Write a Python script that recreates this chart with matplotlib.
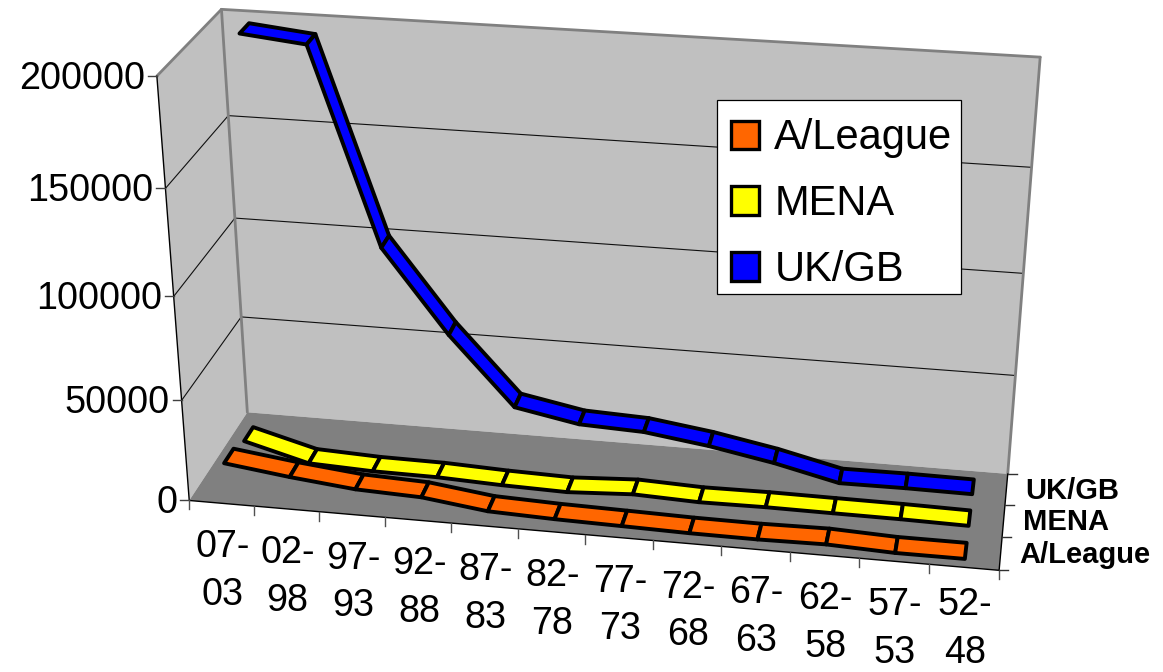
import numpy as np
import matplotlib
matplotlib.use("Agg")
import matplotlib.pyplot as plt
from matplotlib.patches import Patch, Rectangle

plt.rcParams['font.family'] = ['Liberation Sans', 'DejaVu Sans']

# chart data
periods = ["07-\n03", "02-\n98", "97-\n93", "92-\n88", "87-\n83", "82-\n78",
           "77-\n73", "72-\n68", "67-\n63", "62-\n58", "57-\n53", "52-\n48"]
series_names = ["A/League", "MENA", "UK/GB"]
a_league = [16500, 12300, 8900, 7700, 3500, 2400, 1800, 1150, 950, 1400, 100, 100]
mena = [12500, 3800, 2450, 2150, 850, 100, 1800, 600, 900, 700, 550, 100]
uk_gb = [197200, 194000, 100300, 59600, 25600, 19500, 18200, 13700, 7700, 150, 350, 100]
value_ticks = [0, 50000, 100000, 150000, 200000]
colors = ["#FF6600", "#FFFF00", "#0000FF"]

n_cat = len(periods)
n_ser = len(series_names)
v_top = value_ticks[-1]
v_unit = value_ticks[1]

# where the box of the 3D chart sits on the page: (category, series, value) -> pixel
calib_world = [(0, 0, 0), (12, 0, 0), (0, 3, 0), (12, 3, 0), (0, 3, 200000), (12, 3, 200000), (0, 0, 200000),
               (0, 3, 150000), (0, 3, 100000), (0, 3, 50000), (12, 3, 150000), (12, 3, 100000),
               (0, 0, 150000), (0, 0, 100000), (0, 0, 50000)]
calib_pix = [(189, 502), (999, 570), (248, 412), (1008, 474), (221, 9), (1041, 57), (157, 76),
             (227, 117), (235, 218), (242, 316), (1031, 167), (1023, 274),
             (167, 189), (174, 295), (180, 400)]


def fit_camera():
    rows, rhs = [], []
    for (x, y, z), (u, v) in zip(calib_world, calib_pix):
        z = z / v_unit
        rows.append([x, y, z, 1, 0, 0, 0, 0, -u * x, -u * y, -u * z])
        rhs.append(u)
        rows.append([0, 0, 0, 0, x, y, z, 1, -v * x, -v * y, -v * z])
        rhs.append(v)
    p = np.linalg.lstsq(np.array(rows, float), np.array(rhs, float), rcond=None)[0]
    return np.append(p, 1).reshape(3, 4)


camera = fit_camera()


def project(cat, ser, val):
    h = camera @ np.array([cat, ser, val / v_unit, 1.0])
    return h[0] / h[2], h[1] / h[2]


def line3d(ax, a, b, **kw):
    pa, pb = project(*a), project(*b)
    ax.plot([pa[0], pb[0]], [pa[1], pb[1]], solid_capstyle='round', **kw)


fig = plt.figure(figsize=(11.63, 6.72), dpi=100)
ax = fig.add_axes([0, 0, 1, 1])
ax.set_xlim(0, 1163)
ax.set_ylim(672, 0)
ax.axis('off')

# walls and floor
wall = "#C0C0C0"
floor = "#808080"
edge = "#808080"
back = [project(0, n_ser, 0), project(n_cat, n_ser, 0), project(n_cat, n_ser, v_top), project(0, n_ser, v_top)]
left = [project(0, 0, 0), project(0, n_ser, 0), project(0, n_ser, v_top), project(0, 0, v_top)]
ground = [project(0, 0, 0), project(n_cat, 0, 0), project(n_cat, n_ser, 0), project(0, n_ser, 0)]
ax.fill(*zip(*back), color=wall, lw=0, zorder=1)
ax.fill(*zip(*left), color=wall, lw=0, zorder=1)
ax.fill(*zip(*ground), color=floor, lw=0, zorder=1)

# gridlines
for v in value_ticks[1:-1]:
    line3d(ax, (0, 0, v), (0, n_ser, v), color="#101010", lw=0.8, zorder=2)
    line3d(ax, (0, n_ser, v), (n_cat, n_ser, v), color="#101010", lw=0.8, zorder=2)

# box edges
line3d(ax, (0, 0, v_top), (0, n_ser, v_top), color=edge, lw=2.0, zorder=2)
line3d(ax, (0, n_ser, v_top), (n_cat, n_ser, v_top), color=edge, lw=2.0, zorder=2)
line3d(ax, (0, n_ser, 0), (0, n_ser, v_top), color=edge, lw=2.0, zorder=2)
line3d(ax, (n_cat, n_ser, 0), (n_cat, n_ser, v_top), color=edge, lw=2.0, zorder=2)

# axis lines
line3d(ax, (0, 0, 0), (0, 0, v_top), color="black", lw=1.0, zorder=3)
line3d(ax, (0, 0, 0), (n_cat, 0, 0), color="black", lw=1.0, zorder=3)
line3d(ax, (n_cat, 0, 0), (n_cat, n_ser, 0), color="black", lw=1.0, zorder=3)

# value axis ticks and labels
for v in value_ticks:
    x, y = project(0, 0, v)
    ax.plot([x - 9, x], [y, y], color="#404040", lw=1.0, zorder=3)
    ax.text(x - 12, y + 2.5, str(v), ha='right', va='center', fontsize=27.2, color="black")

# category ticks and labels
for i in range(n_cat + 1):
    x, y = project(i, 0, 0)
    ax.plot([x, x], [y, y + 9], color="#505050", lw=1.0, zorder=3)
for i, lab in enumerate(periods):
    x, y = project(i + 0.5, 0, 0)
    # keep the last label inside the page
    ax.text(x + 1, min(y + 68, 629), lab, ha='center', va='center', fontsize=27.2, color="black", linespacing=1.42)

# series ticks and labels
for s in range(n_ser + 1):
    x, y = project(n_cat, s, 0)
    ax.plot([x, x + 9], [y, y], color="#303030", lw=1.0, zorder=3)
for s, name in enumerate(series_names):
    x, y = project(n_cat, s + 0.5, 0)
    ax.text(x + 19, y + 1.5, name, ha='left', va='center', fontsize=21, fontweight='bold', color="black")

# ribbons, back series first
for s, vals, col in reversed(list(zip(range(n_ser), [a_league, mena, uk_gb], colors))):
    y0, y1 = s + 0.24, s + 0.72
    for i in range(n_cat - 1):
        poly = [project(i + 0.5, y0, vals[i]), project(i + 1.5, y0, vals[i + 1]),
                project(i + 1.5, y1, vals[i + 1]), project(i + 0.5, y1, vals[i])]
        ax.fill(*zip(*poly), facecolor=col, edgecolor="black", lw=2.8, joinstyle='round', zorder=4 + i * 0.01)

# legend: white box first, entries on top
ax.add_patch(Rectangle((717, 100), 244, 194, facecolor="white", edgecolor="black", lw=0.9, zorder=6))
handles = [Patch(facecolor=c, edgecolor="black", lw=2.4, label=n) for c, n in zip(colors, series_names)]
leg = ax.legend(handles=handles, loc='upper left', bbox_to_anchor=(731, 118.5), bbox_transform=ax.transData,
                fontsize=30, frameon=False, borderaxespad=0, borderpad=0, handlelength=0.68, handleheight=0.68,
                handletextpad=0.36, labelspacing=0.62)
leg.set_zorder(7)

fig.savefig("out.png", dpi=100)
